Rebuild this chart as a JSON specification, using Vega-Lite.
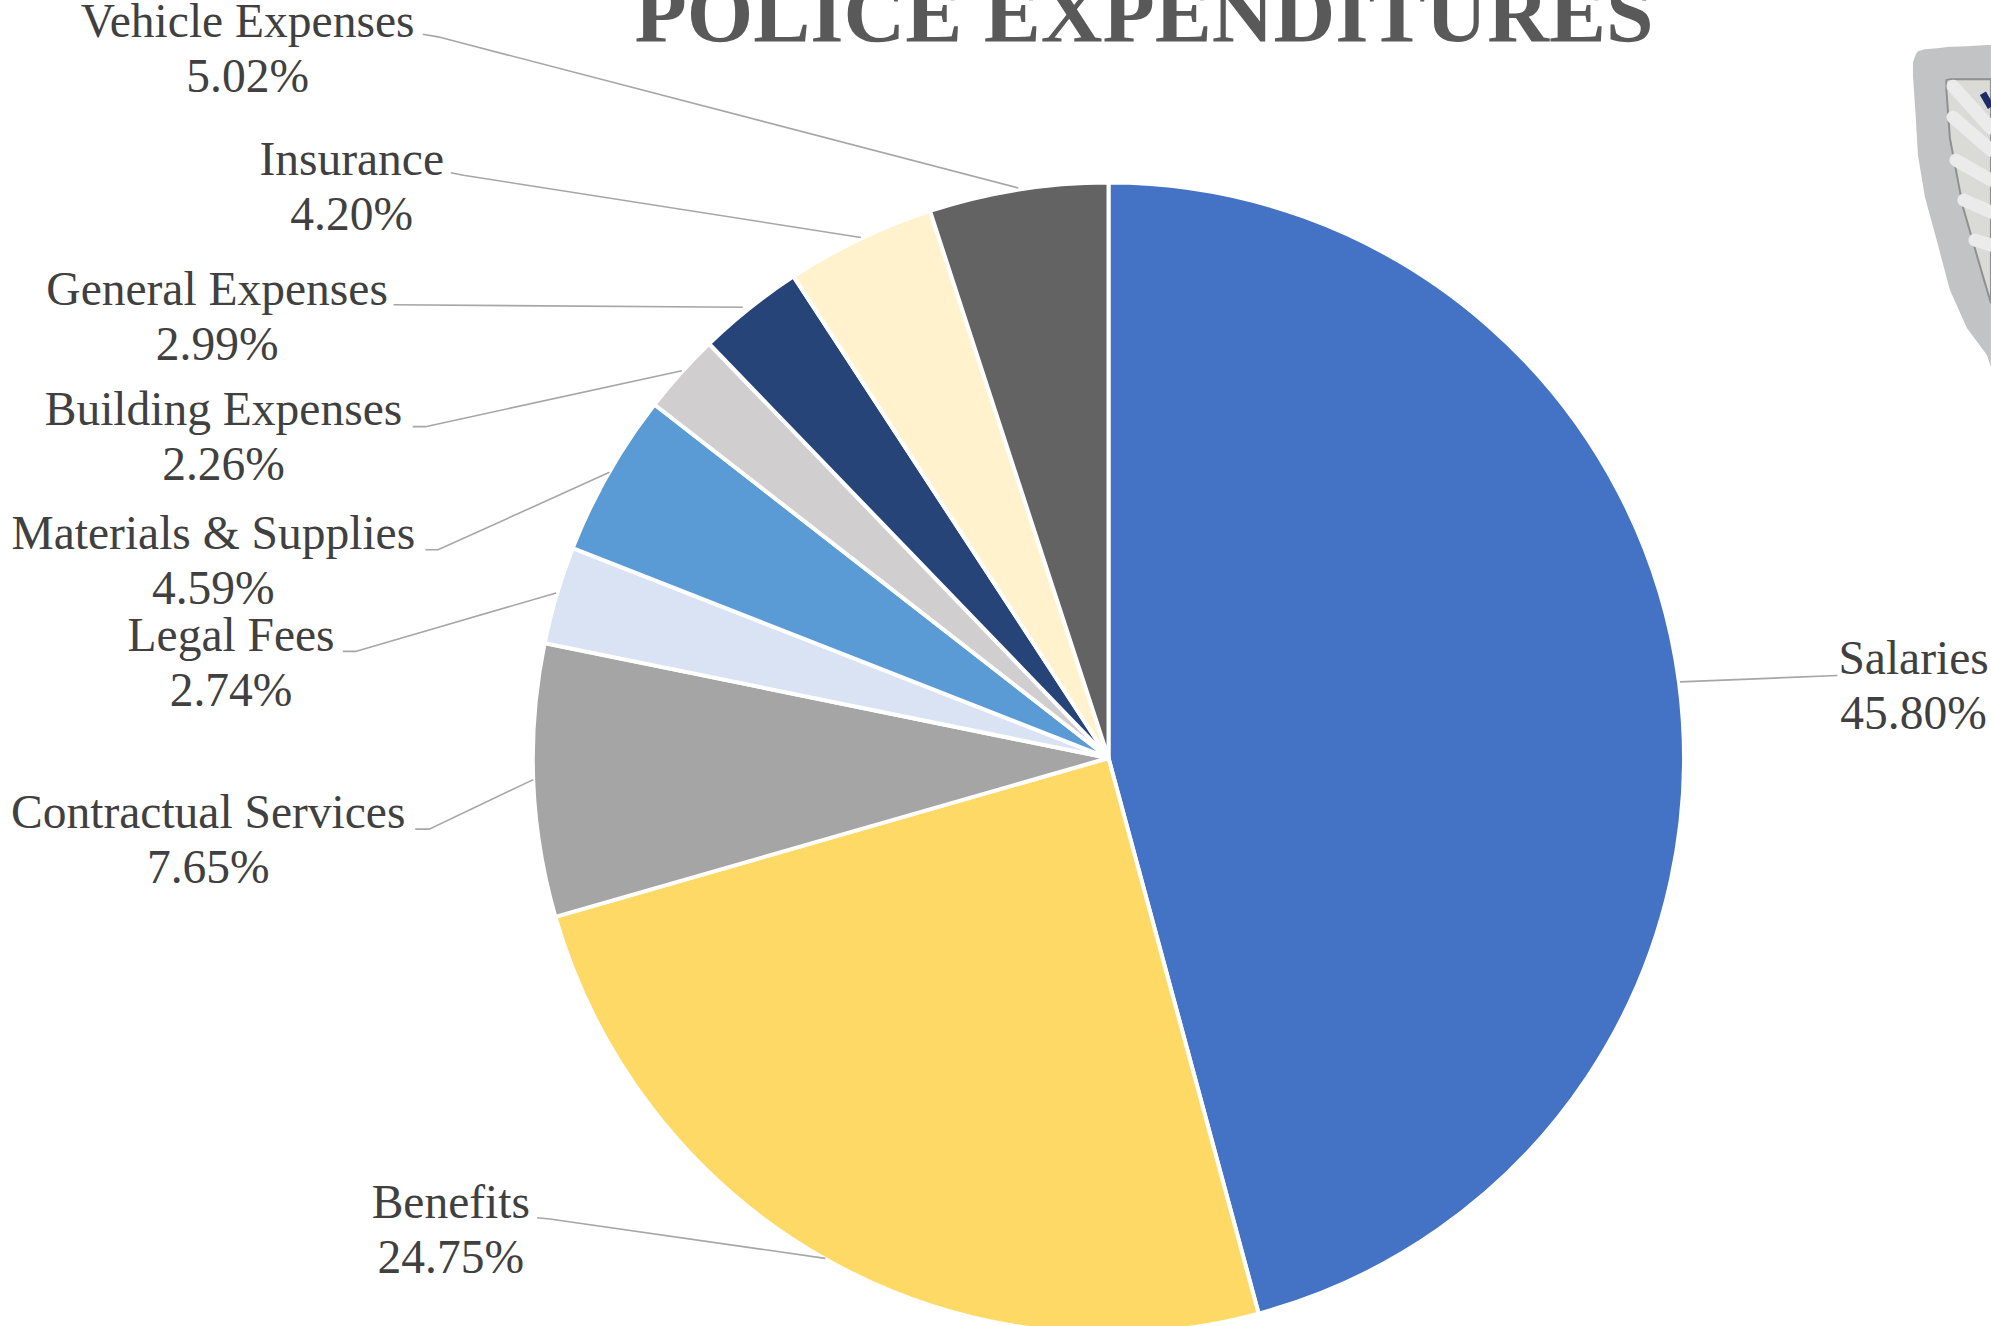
{
  "$schema": "https://vega.github.io/schema/vega-lite/v6.json",
  "width": 1991,
  "height": 1326,
  "padding": 0,
  "autosize": "none",
  "background": "#ffffff",
  "config": {"view": {"stroke": null}},
  "datasets": {
    "shares": [
      {"rank": 1, "category": "Salaries", "share": 45.80},
      {"rank": 2, "category": "Benefits", "share": 24.75},
      {"rank": 3, "category": "Contractual Services", "share": 7.65},
      {"rank": 4, "category": "Legal Fees", "share": 2.74},
      {"rank": 5, "category": "Materials & Supplies", "share": 4.59},
      {"rank": 6, "category": "Building Expenses", "share": 2.26},
      {"rank": 7, "category": "General Expenses", "share": 2.99},
      {"rank": 8, "category": "Insurance", "share": 4.20},
      {"rank": 9, "category": "Vehicle Expenses", "share": 5.02}
    ],
    "heading": [
      {"label": "POLICE EXPENDITURES", "u": 0.0619, "v": 1.2478}
    ],
    "labels": [
      {"category": "Salaries", "label": "Salaries\n45.80%", "u": 1.4027, "v": 0.1704},
      {"category": "Benefits", "label": "Benefits\n24.75%", "u": -1.1460, "v": -0.7767},
      {"category": "Contractual Services", "label": "Contractual Services\n7.65%", "u": -1.5686, "v": -0.0975},
      {"category": "Legal Fees", "label": "Legal Fees\n2.74%", "u": -1.5288, "v": 0.2102},
      {"category": "Materials & Supplies", "label": "Materials & Supplies\n4.59%", "u": -1.5597, "v": 0.3892},
      {"category": "Building Expenses", "label": "Building Expenses\n2.26%", "u": -1.5420, "v": 0.6040},
      {"category": "General Expenses", "label": "General Expenses\n2.99%", "u": -1.5531, "v": 0.8142},
      {"category": "Insurance", "label": "Insurance\n4.20%", "u": -1.3186, "v": 1.0397},
      {"category": "Vehicle Expenses", "label": "Vehicle Expenses\n5.02%", "u": -1.5, "v": 1.2799}
    ],
    "leaders": [
      {"category": "Vehicle Expenses", "step": 1, "u": -1.1947, "v": 1.2611},
      {"category": "Vehicle Expenses", "step": 2, "u": -1.1681, "v": 1.2566},
      {"category": "Vehicle Expenses", "step": 3, "u": -0.1571, "v": 0.9934},
      {"category": "Insurance", "step": 1, "u": -1.1460, "v": 1.0199},
      {"category": "Insurance", "step": 2, "u": -1.1239, "v": 1.0155},
      {"category": "Insurance", "step": 3, "u": -0.4314, "v": 0.9071},
      {"category": "General Expenses", "step": 1, "u": -1.2456, "v": 0.7898},
      {"category": "General Expenses", "step": 2, "u": -0.6372, "v": 0.7854},
      {"category": "Building Expenses", "step": 1, "u": -1.2124, "v": 0.5774},
      {"category": "Building Expenses", "step": 2, "u": -1.1903, "v": 0.5774},
      {"category": "Building Expenses", "step": 3, "u": -0.7434, "v": 0.6748},
      {"category": "Materials & Supplies", "step": 1, "u": -1.1903, "v": 0.3628},
      {"category": "Materials & Supplies", "step": 2, "u": -1.1681, "v": 0.3628},
      {"category": "Materials & Supplies", "step": 3, "u": -0.8695, "v": 0.4978},
      {"category": "Legal Fees", "step": 1, "u": -1.3341, "v": 0.1858},
      {"category": "Legal Fees", "step": 2, "u": -1.3119, "v": 0.1858},
      {"category": "Legal Fees", "step": 3, "u": -0.9624, "v": 0.2876},
      {"category": "Contractual Services", "step": 1, "u": -1.2080, "v": -0.1239},
      {"category": "Contractual Services", "step": 2, "u": -1.1836, "v": -0.1239},
      {"category": "Contractual Services", "step": 3, "u": -1.0022, "v": -0.0376},
      {"category": "Benefits", "step": 1, "u": -0.9956, "v": -0.8009},
      {"category": "Benefits", "step": 2, "u": -0.9735, "v": -0.8031},
      {"category": "Benefits", "step": 3, "u": -0.4934, "v": -0.8717},
      {"category": "Salaries", "step": 1, "u": 1.2699, "v": 0.1438},
      {"category": "Salaries", "step": 2, "u": 0.9956, "v": 0.1327}
    ],
    "badgeOuter": [
      {"u": 1.4016, "top": 1.2125, "bottom": 1.1899},
      {"u": 1.4068, "top": 1.2265, "bottom": 1.1115},
      {"u": 1.4103, "top": 1.2317, "bottom": 1.0505},
      {"u": 1.4225, "top": 1.2352, "bottom": 0.9774},
      {"u": 1.4434, "top": 1.2369, "bottom": 0.9007},
      {"u": 1.4660, "top": 1.2395, "bottom": 0.8153},
      {"u": 1.4956, "top": 1.2404, "bottom": 0.7491},
      {"u": 1.5305, "top": 1.2422, "bottom": 0.7021},
      {"u": 1.5375, "top": 1.2422, "bottom": 0.6812}
    ],
    "badgeInner": [
      {"u": 1.4599, "top": 1.1812, "bottom": 1.1638},
      {"u": 1.4660, "top": 1.1829, "bottom": 1.0801},
      {"u": 1.4887, "top": 1.1829, "bottom": 0.9599},
      {"u": 1.5235, "top": 1.1829, "bottom": 0.8397},
      {"u": 1.5375, "top": 1.1829, "bottom": 0.7927}
    ],
    "badgeStripes": [
      {"stripe": "a", "u": 1.4713, "v": 1.1707},
      {"stripe": "a", "u": 1.5375, "v": 1.0976},
      {"stripe": "b", "u": 1.4713, "v": 1.1167},
      {"stripe": "b", "u": 1.5375, "v": 1.0592},
      {"stripe": "c", "u": 1.4765, "v": 1.0418},
      {"stripe": "c", "u": 1.5375, "v": 1.0070},
      {"stripe": "d", "u": 1.4904, "v": 0.9721},
      {"stripe": "d", "u": 1.5375, "v": 0.9512},
      {"stripe": "e", "u": 1.5096, "v": 0.9024},
      {"stripe": "e", "u": 1.5375, "v": 0.8937}
    ],
    "badgeEnamel": [
      {"u": 1.5235, "v": 1.1585},
      {"u": 1.5375, "v": 1.1341}
    ]
  },
  "encoding": {
    "x": {"field": "u", "type": "quantitative", "axis": null, "scale": {"domain": [-1.9314, 1.5376], "nice": false, "zero": false}},
    "y": {"field": "v", "type": "quantitative", "axis": null, "scale": {"domain": [-0.9896, 1.3208], "nice": false, "zero": false}}
  },
  "layer": [
    {
      "data": {"name": "badgeOuter"},
      "mark": {"type": "area", "color": "#C2C3C5"},
      "encoding": {"y": {"field": "top", "type": "quantitative"}, "y2": {"field": "bottom"}}
    },
    {
      "data": {"name": "badgeInner"},
      "mark": {"type": "area", "color": "#DADAD7", "stroke": "#8F9092", "strokeWidth": 2},
      "encoding": {"y": {"field": "top", "type": "quantitative"}, "y2": {"field": "bottom"}}
    },
    {
      "data": {"name": "badgeStripes"},
      "mark": {"type": "line", "color": "#EBEBEB", "strokeWidth": 13, "strokeCap": "round"},
      "encoding": {"detail": {"field": "stripe"}}
    },
    {
      "data": {"name": "badgeEnamel"},
      "mark": {"type": "line", "color": "#1B2A6B", "strokeWidth": 7}
    },
    {
      "data": {"name": "shares"},
      "transform": [
        {"stack": "share", "groupby": [], "sort": [{"field": "rank", "order": "ascending"}], "as": ["start", "end"]},
        {"calculate": "0", "as": "u"},
        {"calculate": "0", "as": "v"}
      ],
      "mark": {"type": "arc", "outerRadius": 575.5, "innerRadius": 0, "stroke": "#ffffff", "strokeWidth": 4},
      "encoding": {
        "theta": {"field": "start", "type": "quantitative", "scale": {"domain": [0, 100]}},
        "theta2": {"field": "end"},
        "color": {
          "field": "category", "type": "nominal", "legend": null,
          "scale": {
            "domain": ["Salaries", "Benefits", "Contractual Services", "Legal Fees", "Materials & Supplies", "Building Expenses", "General Expenses", "Insurance", "Vehicle Expenses"],
            "range": ["#4472C4", "#FFD966", "#A5A5A5", "#DAE3F3", "#5B9BD5", "#D0CECE", "#264478", "#FFF2CC", "#636363"]
          }
        }
      }
    },
    {
      "data": {"name": "leaders"},
      "mark": {"type": "line", "color": "#A6A6A6", "strokeWidth": 1.6},
      "encoding": {"detail": {"field": "category"}, "order": {"field": "step", "type": "quantitative"}}
    },
    {
      "data": {"name": "labels"},
      "mark": {"type": "text", "font": "Liberation Serif", "fontSize": 47.5, "color": "#404040", "align": "center", "baseline": "middle", "lineBreak": "\n", "lineHeight": 55},
      "encoding": {"text": {"field": "label", "type": "nominal"}}
    },
    {
      "data": {"name": "heading"},
      "mark": {"type": "text", "font": "Liberation Serif", "fontSize": 85.5, "fontWeight": "bold", "color": "#595959", "align": "center", "baseline": "alphabetic"},
      "encoding": {"text": {"field": "label", "type": "nominal"}}
    }
  ]
}
